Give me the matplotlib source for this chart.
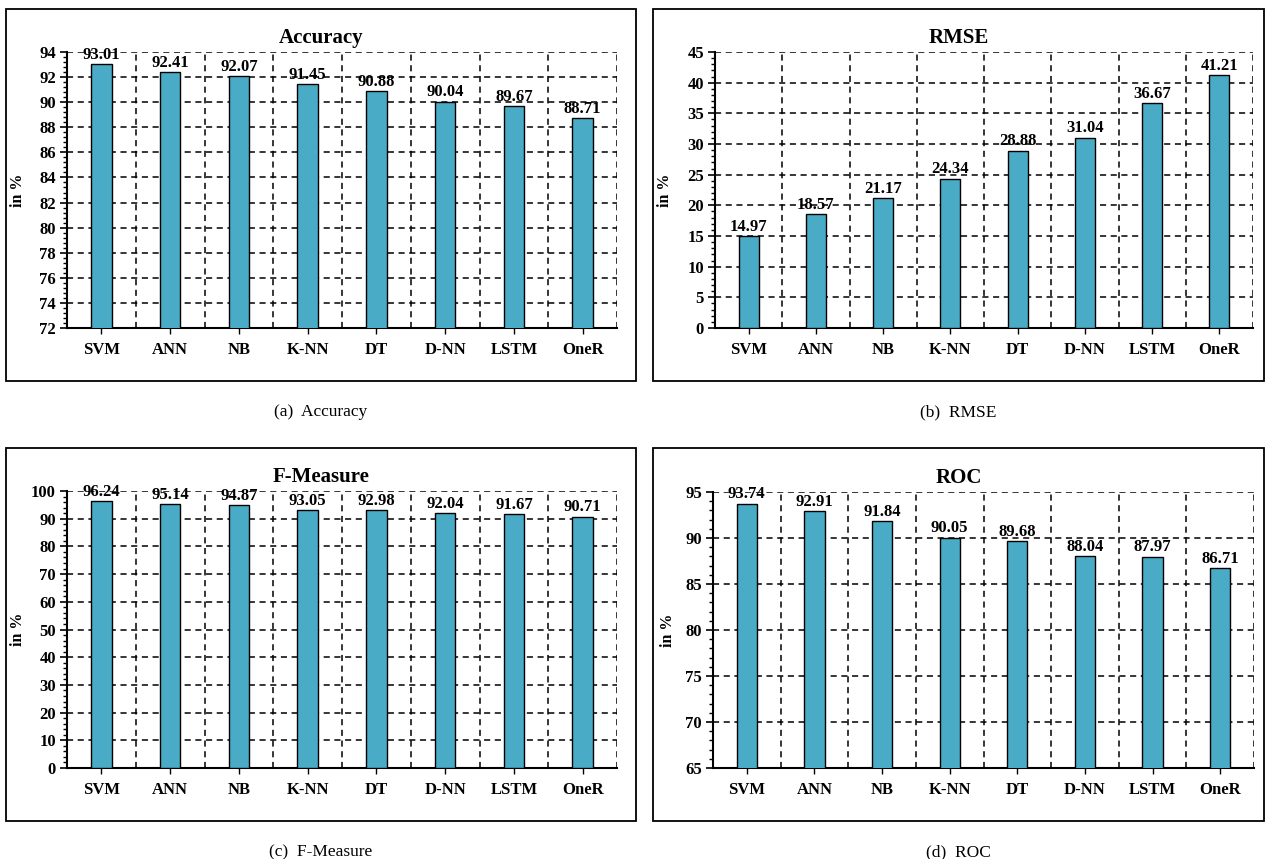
import matplotlib
matplotlib.use("Agg")
import matplotlib.pyplot as plt
from matplotlib.patches import Rectangle
from matplotlib.ticker import AutoMinorLocator, MultipleLocator
import numpy as np

plt.rcParams['font.family'] = ['Liberation Serif', 'DejaVu Serif']

models = ["SVM", "ANN", "NB", "K-NN", "DT", "D-NN", "LSTM", "OneR"]
accuracy = [93.01, 92.41, 92.07, 91.45, 90.88, 90.04, 89.67, 88.71]
rmse = [14.97, 18.57, 21.17, 24.34, 28.88, 31.04, 36.67, 41.21]
f_measure = [96.24, 95.14, 94.87, 93.05, 92.98, 92.04, 91.67, 90.71]
roc = [93.74, 92.91, 91.84, 90.05, 89.68, 88.04, 87.97, 86.71]

W, H = 1270, 859
bar_color = "#4aabc6"

# (values, title, caption, ylim, step, axes px box, frame px box, ylabel x)
panels = [
    (accuracy, "Accuracy", "(a)  Accuracy", (72, 94), 2, (67, 617, 52, 328), (6, 636, 9, 381), 18),
    (rmse, "RMSE", "(b)  RMSE", (0, 45), 5, (715, 1253, 52, 328), (653, 1264, 9, 381), 665),
    (f_measure, "F-Measure", "(c)  F-Measure", (0, 100), 10, (67, 617, 491, 768), (6, 636, 448, 821), 18),
    (roc, "ROC", "(d)  ROC", (65, 95), 5, (713, 1254, 492, 768), (653, 1264, 448, 821), 668),
]

fig = plt.figure(figsize=(W / 100, H / 100), dpi=100)


def fx(px):
    return px / W


def fy(py):
    return 1 - py / H


for vals, title, caption, ylim, step, (x0, x1, y0, y1), (bx0, bx1, by0, by1), ylx in panels:
    # outer frame around each chart
    fig.patches.append(Rectangle((fx(bx0), fy(by1)), fx(bx1) - fx(bx0), fy(by0) - fy(by1),
                                 transform=fig.transFigure, fill=False, lw=1.3, ec="black"))
    ax = fig.add_axes([fx(x0), fy(y1), fx(x1) - fx(x0), fy(y0) - fy(y1)])
    x = np.arange(len(models))
    ax.bar(x, vals, width=0.3, color=bar_color, edgecolor="black", linewidth=1.0, zorder=3)
    for xi, v in zip(x, vals):
        ax.annotate("%.2f" % v, (xi, v), xytext=(0, 1), textcoords="offset points",
                    ha="center", va="bottom", fontsize=12, fontweight="bold", zorder=4)
    ax.set_xlim(-0.5, len(models) - 0.5)
    ax.set_ylim(*ylim)
    ax.yaxis.set_major_locator(MultipleLocator(step))
    ax.yaxis.set_minor_locator(AutoMinorLocator(5))
    ax.set_xticks(x)
    ax.set_xticklabels(models, fontsize=12, fontweight="bold")
    for lab in ax.get_yticklabels():
        lab.set_fontweight("bold")
        lab.set_fontsize(12)
    ax.tick_params(axis="y", which="major", length=5, width=1.2, direction="out", pad=3)
    ax.tick_params(axis="y", which="minor", length=3, width=1.0, direction="out")
    ax.tick_params(axis="x", length=4, width=1.0, direction="out", pad=6)
    for s in ["top", "right"]:
        ax.spines[s].set_visible(False)
    for s in ["left", "bottom"]:
        ax.spines[s].set_linewidth(1.5)
    # dashed grid: major y values and category boundaries
    for yv in np.arange(ylim[0] + step, ylim[1] + step / 2, step):
        ax.axhline(yv, color="black", lw=1.1, ls=(0, (4, 3)), zorder=1)
    for xb in np.arange(0.5, len(models), 1.0):
        ax.axvline(xb, color="black", lw=1.1, ls=(0, (4, 3)), zorder=1)
    fig.text(fx((bx0 + bx1) / 2), fy(y0 - 14), title, ha="center", va="center",
             fontsize=15, fontweight="bold")
    fig.text(fx(ylx), fy((y0 + y1) / 2), "in %", rotation=90, ha="center", va="center",
             fontsize=11.5, fontweight="bold")
    fig.text(fx((bx0 + bx1) / 2), fy(by1 + 31), caption, ha="center", va="center", fontsize=12.5)

plt.savefig("out.png", dpi=100)
